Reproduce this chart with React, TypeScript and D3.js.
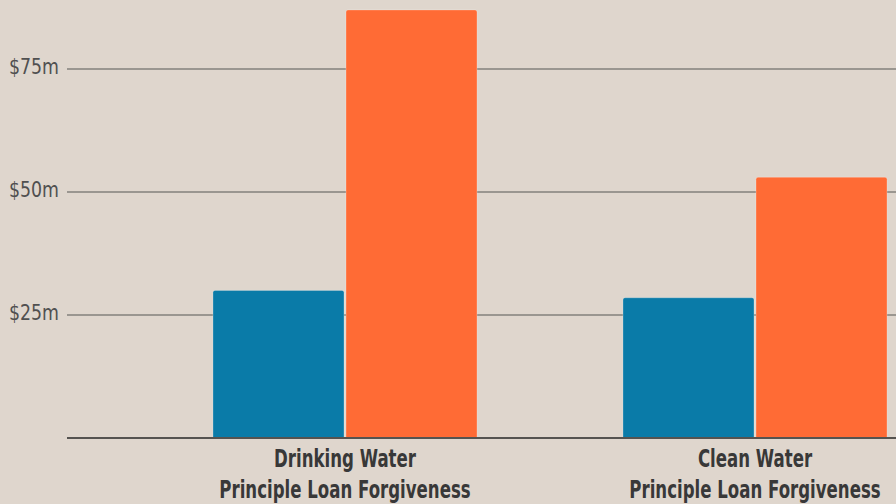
import React from "react";
import * as d3 from "d3";

const categories = ["Drinking Water\nPrinciple Loan Forgiveness", "Clean Water\nPrinciple Loan Forgiveness"];
const seriesNames = ["A", "B"];
const seriesA = [30, 28.5];
const seriesB = [87, 53];
const tickValues = [25, 50, 75];
const tickLabels = ["$25m", "$50m", "$75m"];
const colors = ["#0a7ba8", "#ff6b35"];

const W = 896;
const H = 504;
const FONT = "'DejaVu Sans', sans-serif";

export default function App() {
  const y = d3.scaleLinear().domain([0, 25]).range([438, 315]);
  const x0 = d3.scaleBand<string>().domain(categories).range([140, 960]).paddingInner(0.356).paddingOuter(0.178);
  const x1 = d3.scaleBand<string>().domain(seriesNames).range([0, x0.bandwidth()]).paddingInner(0.015);
  const values = [seriesA, seriesB];

  return (
    <svg width={W} height={H} style={{ position: "absolute", left: 0, top: 0, background: "#dfd6cd" }}>
      <rect x={0} y={0} width={W} height={H} fill="#dfd6cd" />
      {tickValues.map((t, i) => (
        <g key={t}>
          <line x1={67} x2={W} y1={y(t)} y2={y(t)} stroke="#9a9690" strokeWidth={2} />
          <g transform={`translate(59,${y(t) + 5.3}) scale(0.847,1)`}>
            <text x={0} y={0} textAnchor="end" fontFamily={FONT} fontSize={20.5} fill="#505050">
              {tickLabels[i]}
            </text>
          </g>
        </g>
      ))}
      {categories.map((c, ci) =>
        seriesNames.map((s, si) => {
          const v = values[si][ci];
          const bx = (x0(c) ?? 0) + (x1(s) ?? 0);
          const bw = x1.bandwidth();
          const top = y(v);
          const r = 2;
          const path = `M${bx},${y(0)} V${top + r} Q${bx},${top} ${bx + r},${top} H${bx + bw - r} Q${bx + bw},${top} ${bx + bw},${top + r} V${y(0)} Z`;
          return (
            <path key={c + s} d={path} fill={colors[si]} stroke="rgba(255,255,255,0.25)" strokeWidth={1} />
          );
        })
      )}
      <line x1={67} x2={W} y1={y(0)} y2={y(0)} stroke="#555350" strokeWidth={2} />
      {categories.map((c) => {
        const cx = (x0(c) ?? 0) + x0.bandwidth() / 2;
        const lines = c.split("\n");
        return (
          <g key={c} transform={`translate(${cx},0) scale(0.664,1)`}>
            <text x={0} textAnchor="middle" fontFamily={FONT} fontWeight="bold" fontSize={25} fill="#383838">
              {lines.map((l, i) => (
                <tspan key={i} x={0} y={467.5 + i * 30.5}>
                  {l}
                </tspan>
              ))}
            </text>
          </g>
        );
      })}
    </svg>
  );
}
